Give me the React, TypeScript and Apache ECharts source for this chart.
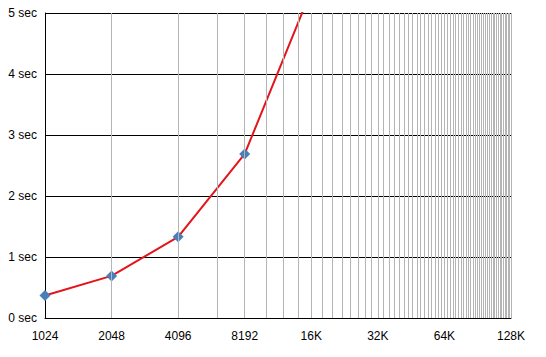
import React, { useEffect, useRef } from "react";
import * as echarts from "echarts";

const sizes = [1024, 2048, 4096, 8192, 16384];
const seconds = [0.37, 0.69, 1.33, 2.69, 5.37];
const xTickLabels = ["1024", "2048", "4096", "8192", "16K", "32K", "64K", "128K"];
const yMax = 5;
const xMin = 1024;
const xMax = 131072;
const gridUnit = 2048;

export default function App() {
  const ref = useRef<HTMLDivElement>(null);
  useEffect(() => {
    if (!ref.current) return;
    const chart = echarts.init(ref.current, null, { renderer: "svg" });
    const gridLines: { xAxis: number }[] = [];
    for (let v = gridUnit; v <= xMax; v += gridUnit) gridLines.push({ xAxis: v });
    const font = "'Liberation Sans', Arial, sans-serif";
    chart.setOption({
      animation: false,
      backgroundColor: "#ffffff",
      grid: { left: 45, right: 35, top: 13, bottom: 39, containLabel: false },
      xAxis: {
        type: "log",
        logBase: 2,
        min: xMin,
        max: xMax,
        axisLine: { show: true, lineStyle: { color: "#000", width: 1 } },
        axisTick: { show: false },
        splitLine: { show: false },
        axisLabel: {
          color: "#000",
          fontSize: 12,
          fontFamily: font,
          margin: 12,
          formatter: (v: number) => {
            const i = Math.round(Math.log2(v / xMin));
            return xTickLabels[i] ?? "";
          },
        },
      },
      yAxis: {
        type: "value",
        min: 0,
        max: yMax,
        interval: 1,
        axisLine: { show: true, lineStyle: { color: "#000", width: 1 } },
        axisTick: { show: false },
        splitLine: { show: true, lineStyle: { color: "#000", width: 1 } },
        axisLabel: {
          color: "#000",
          fontSize: 12,
          fontFamily: font,
          margin: 8,
          formatter: "{value} sec",
        },
      },
      series: [
        {
          type: "line",
          z: 1,
          silent: true,
          data: [[xMin, 0]],
          showSymbol: false,
          symbol: "none",
          lineStyle: { width: 0, opacity: 0 },
          markLine: {
            silent: true,
            animation: false,
            symbol: ["none", "none"],
            label: { show: false },
            lineStyle: { color: "#b4b4b4", width: 1, type: "solid" },
            emphasis: { disabled: true },
            data: gridLines,
          },
        },
        {
          type: "line",
          z: 3,
          data: sizes.map((s, i) => [s, seconds[i]]),
          clip: true,
          symbol: "diamond",
          symbolSize: 11,
          itemStyle: { color: "#4a7ebb" },
          lineStyle: { color: "#e3141b", width: 2 },
        },
      ],
    });
    return () => chart.dispose();
  }, []);
  return (
    <div
      ref={ref}
      style={{ position: "fixed", left: 0, top: 0, width: 546, height: 357 }}
    />
  );
}
